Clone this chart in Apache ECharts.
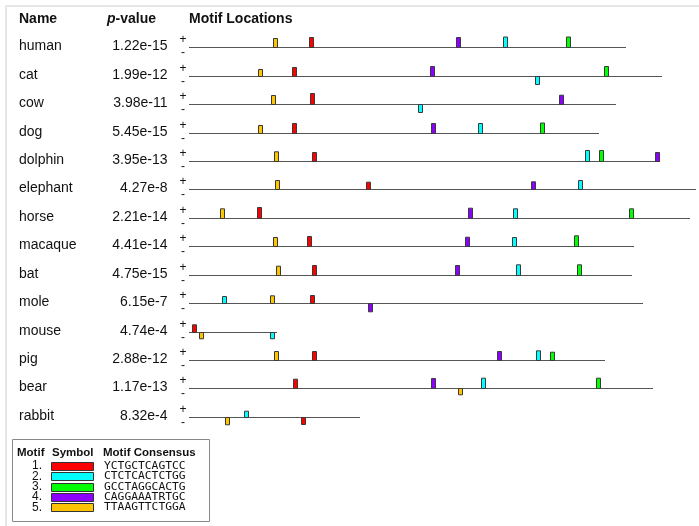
<!DOCTYPE html>
<html><head><meta charset="utf-8">
<script src="https://cdn.jsdelivr.net/npm/echarts@6/dist/echarts.min.js"></script>
<style>html,body{margin:0;padding:0;background:#fff}#c{width:699px;height:526px}</style>
</head><body><div id="c"></div>
<script>
// Sequences
const names = ['human','cat','cow','dog','dolphin','elephant','horse','macaque','bat','mole','mouse','pig','bear','rabbit'];
const pvalues = ['1.22e-15','1.99e-12','3.98e-11','5.45e-15','3.95e-13','4.27e-8','2.21e-14','4.41e-14','4.75e-15','6.15e-7','4.74e-4','2.88e-12','1.17e-13','8.32e-4'];
const lengths = [437, 473, 427, 410, 471, 507, 501, 445, 443, 454, 88, 416, 464, 171];

// Motifs
const motifNumbers = ['1.','2.','3.','4.','5.'];
const consensus = ['YCTGCTCAGTCC','CTCTCACTCTGG','GCCTAGGCACTG','CAGGAAATRTGC','TTAAGTTCTGGA'];

// Sites: [sequence index, motif index (0-based), position, strand (+1/-1), site strength]
const sites = [
  [0,4,86,1,9],[0,0,122,1,10],[0,3,269,1,10],[0,1,316,1,10.5],[0,2,379,1,10.5],
  [1,4,71,1,7],[1,0,105,1,9],[1,3,243,1,10],[1,1,348,-1,8],[1,2,417,1,10],
  [2,4,84,1,9],[2,0,123,1,11],[2,1,231,-1,8],[2,3,372,1,9.3],
  [3,4,71,1,8],[3,0,105,1,10],[3,3,244,1,10],[3,1,291,1,10],[3,2,353,1,10.5],
  [4,4,87,1,9.7],[4,0,125,1,9],[4,1,398,1,11],[4,2,412,1,11],[4,3,468,1,9],
  [5,4,88,1,9],[5,0,179,1,7.3],[5,3,344,1,7.7],[5,1,391,1,9],
  [6,4,33,1,9.7],[6,0,70,1,11],[6,3,281,1,10.3],[6,1,326,1,9.7],[6,2,442,1,9.7],
  [7,4,86,1,9],[7,0,120,1,10],[7,3,278,1,9.3],[7,1,325,1,9],[7,2,387,1,10.7],
  [8,4,89,1,9.3],[8,0,125,1,10],[8,3,268,1,10],[8,1,329,1,10.7],[8,2,390,1,10.7],
  [9,1,35,1,7],[9,4,83,1,7.7],[9,0,123,1,8],[9,3,181,-1,8.3],
  [10,0,5,1,7.7],[10,4,12,-1,6.3],[10,1,83,-1,6.3],
  [11,4,87,1,9],[11,0,125,1,9],[11,3,310,1,9],[11,1,349,1,9.7],[11,2,363,1,8.3],
  [12,0,106,1,9.3],[12,3,244,1,10],[12,4,271,-1,6.3],[12,1,294,1,10.3],[12,2,409,1,10.3],
  [13,1,57,1,6.3],[13,4,38,-1,7.3],[13,0,114,-1,7]
];

const colors = ['#ff0000','#00ffff','#00ff00','#8c00ff','#ffc400'];
const SANS = '"Liberation Sans", Arial, sans-serif';
const MONO = '"DejaVu Sans Mono", monospace';

const chart = echarts.init(document.getElementById('c'), null, {renderer:'canvas'});

const legendRowY = [466, 476.3, 486.6, 496.9, 507.2];
const graphics = [
  {type:'line', shape:{x1:5,y1:6,x2:699,y2:6}, style:{stroke:'#e6e6e6', lineWidth:2}, silent:true},
  {type:'line', shape:{x1:6,y1:5,x2:6,y2:526}, style:{stroke:'#e6e6e6', lineWidth:2}, silent:true},
  {type:'text', left:19, top:12, style:{text:'Name', font:'bold 14px '+SANS, fill:'#111'}},
  {type:'text', left:107, top:12, style:{text:'{i|p}-value', font:'bold 14px '+SANS, fill:'#111', rich:{i:{font:'italic bold 14px '+SANS, fill:'#111'}}}},
  {type:'text', left:189, top:12, style:{text:'Motif Locations', font:'bold 14px '+SANS, fill:'#111'}},
  {type:'rect', shape:{x:12.5,y:439.5,width:197,height:82}, style:{fill:'none', stroke:'#888', lineWidth:1}},
  {type:'text', x:17, y:452.5, style:{text:'Motif', font:'bold 11.5px '+SANS, fill:'#111', textVerticalAlign:'middle'}},
  {type:'text', x:52, y:452.5, style:{text:'Symbol', font:'bold 11.5px '+SANS, fill:'#111', textVerticalAlign:'middle'}},
  {type:'text', x:103, y:452.5, style:{text:'Motif Consensus', font:'bold 11.5px '+SANS, fill:'#111', textVerticalAlign:'middle'}}
];
motifNumbers.forEach((n,i)=>{
  const y = legendRowY[i];
  graphics.push({type:'text', x:42, y:y, style:{text:n, font:'12px '+SANS, fill:'#111', textAlign:'right', textVerticalAlign:'middle'}});
  graphics.push({type:'rect', shape:{x:51.5, y:Math.round(y-4)+0.5, width:42, height:8}, style:{fill:colors[i], stroke:'#333', lineWidth:1}});
  graphics.push({type:'text', x:104, y:y, style:{text:consensus[i], font:'11.3px '+MONO, fill:'#111', textVerticalAlign:'middle'}});
});

chart.setOption({
  animation:false,
  grid:{left:189, right:0, top:33, height:398},
  xAxis:{type:'value', min:0, max:510, show:false},
  yAxis:{type:'category', data:names, inverse:true, show:false},
  graphic:graphics,
  series:[
    {
      type:'custom', clip:false,
      data:names.map((n,i)=>[0,i,lengths[i]]),
      encode:{x:[0,2], y:1},
      renderItem:function(params, api){
        const i = api.value(1);
        const p0 = api.coord([0,i]);
        const p1 = api.coord([api.value(2),i]);
        const y = Math.round(p0[1]) + 0.5;
        return {type:'group', children:[
          {type:'line', shape:{x1:p0[0], y1:y, x2:p1[0], y2:y}, style:{stroke:'#555', lineWidth:1}},
          {type:'text', style:{text:names[i], x:19, y:y-1, font:'14px '+SANS, fill:'#111', textVerticalAlign:'middle'}},
          {type:'text', style:{text:pvalues[i], x:167.5, y:y-1, font:'14px '+SANS, fill:'#111', textAlign:'right', textVerticalAlign:'middle'}},
          {type:'text', style:{text:'+', x:183, y:y-8, font:'12px '+SANS, fill:'#111', textAlign:'center', textVerticalAlign:'middle'}},
          {type:'text', style:{text:'-', x:183, y:y+5, font:'12px '+SANS, fill:'#111', textAlign:'center', textVerticalAlign:'middle'}}
        ]};
      }
    },
    {
      type:'custom', clip:false,
      data:sites.map(s=>[s[2], s[0], s[1], s[3], s[4]]),
      encode:{x:0, y:1},
      renderItem:function(params, api){
        const c = api.coord([api.value(0), api.value(1)]);
        const m = api.value(2), strand = api.value(3), h = api.value(4);
        const y = Math.round(c[1]) + 0.5;
        const x = Math.round(c[0]) - 1.5;
        const top = strand > 0 ? y - h : y;
        return {type:'rect', shape:{x:x, y:top, width:4, height:h},
          style:{fill:colors[m], stroke:'#3a3a3a', lineWidth:1}};
      }
    }
  ]
});
</script></body></html>
